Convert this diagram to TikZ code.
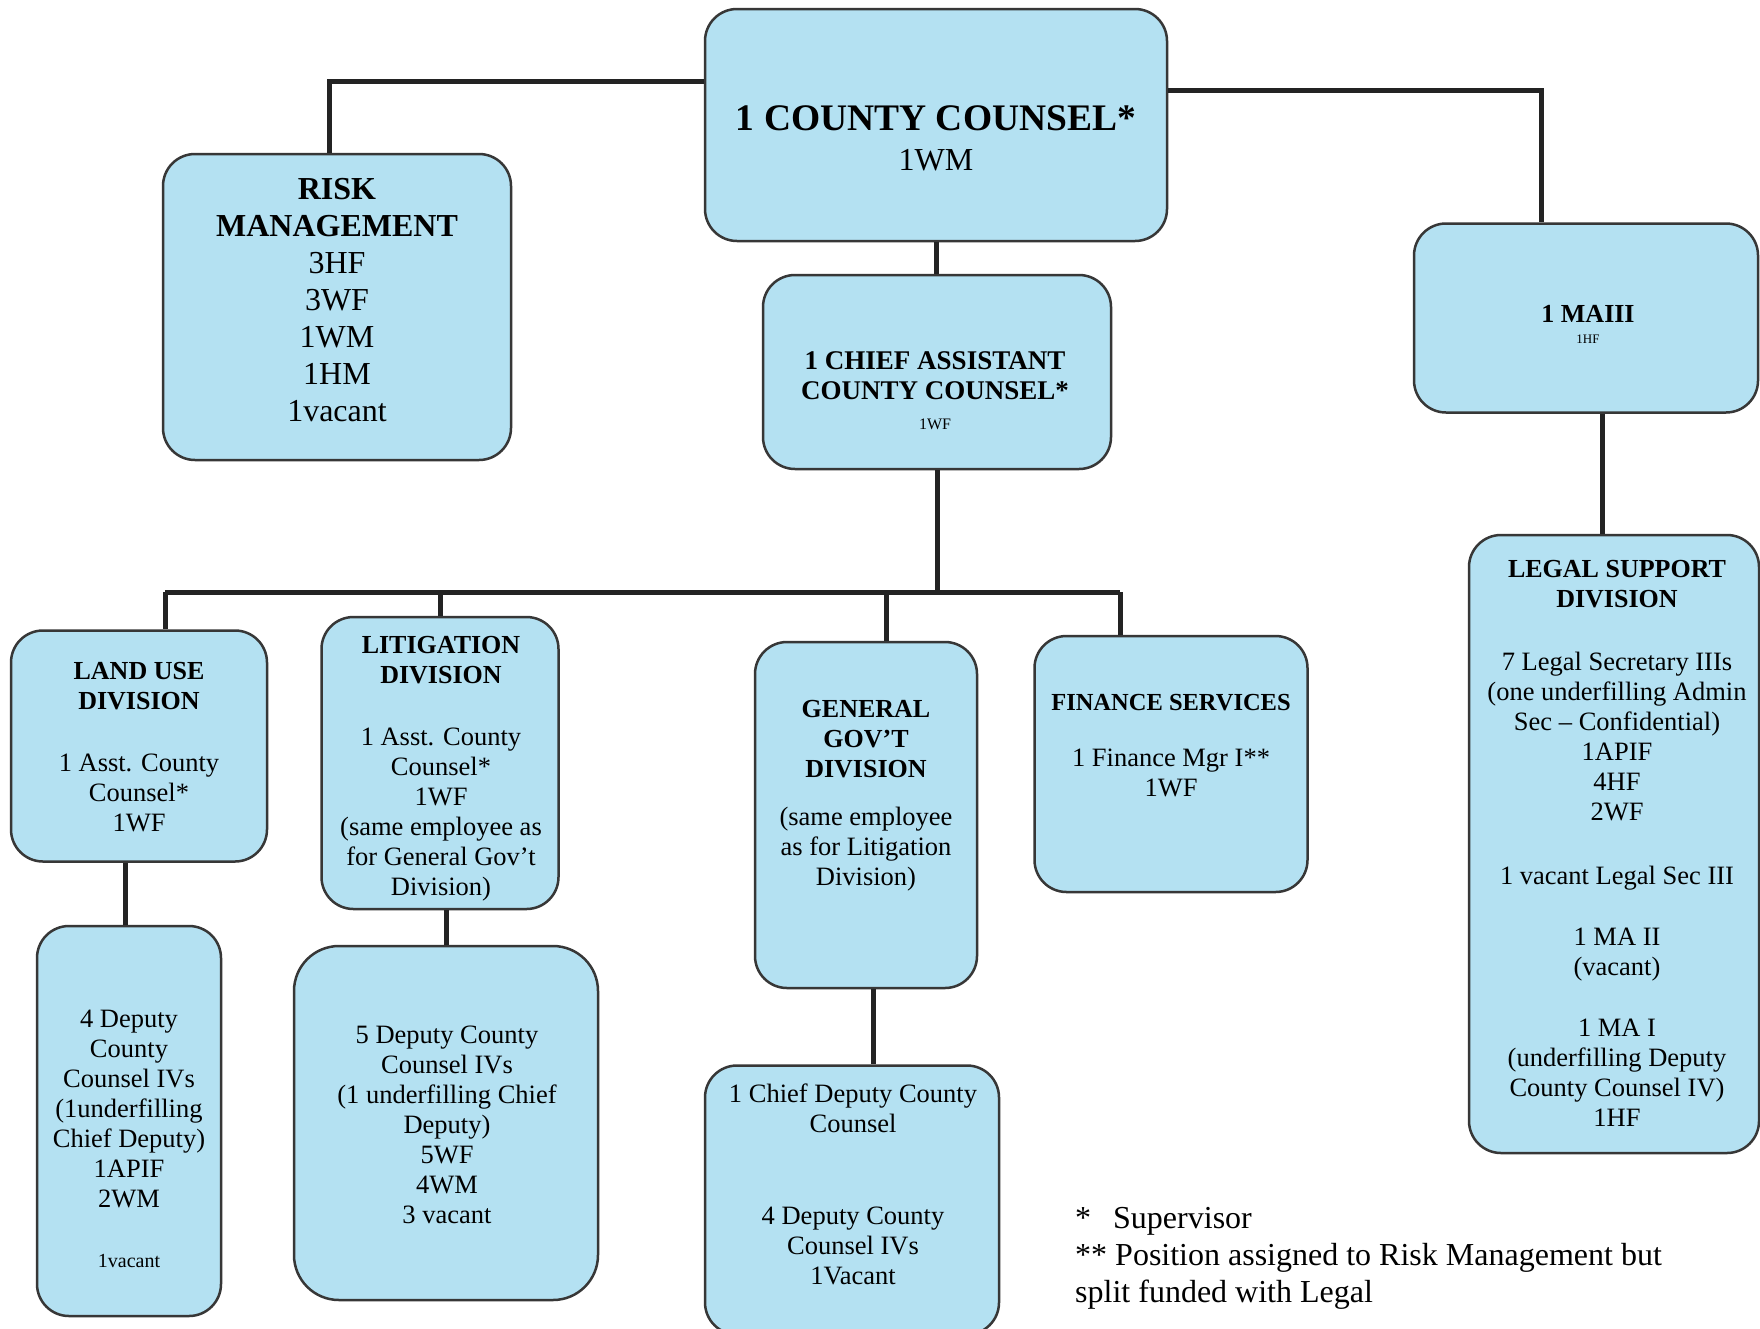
\documentclass[tikz,border=0pt]{standalone}
\usepackage{fontspec}
\setmainfont{Liberation Serif}
\definecolor{boxblue}{RGB}{180,225,242}
\definecolor{edgegray}{RGB}{55,55,55}
\definecolor{linegray}{RGB}{35,35,35}
\tikzset{
  box/.style={draw=edgegray, line width=2.5pt, fill=boxblue, rounded corners=32pt, inner sep=0pt},
  txt/.style={align=center, inner sep=0pt, font=\fontsize{26.5}{30}\selectfont},
  ttl/.style={font=\bfseries\fontsize{26}{30}\selectfont},
  conn/.style={draw=linegray, line width=5pt}
}
\newcommand{\ttlf}{\bfseries\fontsize{26}{30}\selectfont}
\begin{document}
\begin{tikzpicture}[x=1pt,y=-1pt]
\clip (0,0) rectangle (1760,1328);
\fill[white] (0,0) rectangle (1760,1328);
% boxes
\node[box, minimum width=462pt, minimum height=232pt] (cc) at (936,125) {};
\node[box, minimum width=348pt, minimum height=306pt] (risk) at (337,307) {};
\node[box, minimum width=348pt, minimum height=194pt] (chief) at (937,372) {};
\node[box, minimum width=344pt, minimum height=189pt] (maiii) at (1586,318) {};
\node[box, minimum width=290pt, minimum height=618pt] (legal) at (1614,844) {};
\node[box, minimum width=256pt, minimum height=231pt] (landuse) at (139,746) {};
\node[box, minimum width=184pt, minimum height=390pt] (landdep) at (129,1121) {};
\node[box, minimum width=237pt, minimum height=292pt] (lit) at (440,763) {};
\node[box, minimum width=304pt, minimum height=354pt, rounded corners=45pt] (litdep) at (446,1123) {};
\node[box, minimum width=222pt, minimum height=346pt] (gen) at (866,815) {};
\node[box, minimum width=294pt, minimum height=269pt] (chiefdep) at (852,1200) {};
\node[box, minimum width=273pt, minimum height=256pt] (fin) at (1171,764) {};
% connectors
\coordinate (bus) at (935,592);
\draw[conn] ([yshift=44pt]cc.west) -| ([xshift=-8pt]risk.north);
\draw[conn] ([yshift=35pt]cc.east) -| ([xshift=-45pt]maiii.north);
\draw[conn] (cc.south) -- (cc.south |- chief.north);
\draw[conn] (chief.south) -- (chief.south |- bus);
\draw[conn] ([xshift=26pt]landuse.north |- bus) -- ([xshift=-51pt]fin.north |- bus);
\draw[conn] ([xshift=26pt]landuse.north |- bus) -- ([xshift=26pt]landuse.north);
\draw[conn] (lit.north |- bus) -- (lit.north);
\draw[conn] ([xshift=20pt]gen.north |- bus) -- ([xshift=20pt]gen.north);
\draw[conn] ([xshift=-51pt]fin.north |- bus) -- ([xshift=-51pt]fin.north);
\draw[conn] ([xshift=-14pt]landuse.south) -- ([xshift=-14pt]landuse.south |- landdep.north);
\draw[conn] ([xshift=6pt]lit.south) -- ([xshift=6pt]lit.south |- litdep.north);
\draw[conn] ([xshift=7pt]gen.south) -- ([xshift=7pt]gen.south |- chiefdep.north);
\draw[conn] ([xshift=16pt]maiii.south) -- ([xshift=16pt]maiii.south |- legal.north);
% texts
\node[txt, font=\fontsize{32}{40}\selectfont] (cct) at (936,138) {{\bfseries\fontsize{37.5}{40}\selectfont 1 COUNTY COUNSEL*}\\1WM};
\node[txt, font=\fontsize{32}{37}\selectfont] (riskt) at (337,300) {\textbf{RISK}\\\textbf{MANAGEMENT}\\3HF\\3WF\\1WM\\1HM\\1vacant};
\node[txt, font=\fontsize{27}{30}\selectfont] (chieft) at (935,391) {\textbf{1 CHIEF ASSISTANT}\\\textbf{COUNTY COUNSEL*}\\{\fontsize{16}{20}\selectfont 1WF}};
\node[txt, font=\fontsize{26}{21}\selectfont] (maiiit) at (1588,324) {\textbf{1 MAIII}\\{\fontsize{13}{15}\selectfont 1HF}};
\node[txt] (legalt) at (1617,843) {{\ttlf LEGAL SUPPORT}\\{\ttlf DIVISION}\\[33pt]7 Legal Secretary IIIs\\(one underfilling Admin\\Sec – Confidential)\\1APIF\\4HF\\2WF\\[34pt]1 vacant Legal Sec III\\[31pt]1 MA II\\(vacant)\\[31pt]1 MA I\\(underfilling Deputy\\County Counsel IV)\\1HF};
\node[txt] (landuset) at (139,747) {{\ttlf LAND USE}\\{\ttlf DIVISION}\\[32pt]1 Asst. County\\Counsel*\\1WF};
\node[txt] (litt) at (441,769) {{\ttlf LITIGATION}\\{\ttlf DIVISION}\\[32pt]1 Asst. County\\Counsel*\\1WF\\(same employee as\\for General Gov’t\\Division)};
\node[txt] (gent) at (866,796) {{\ttlf GENERAL}\\{\ttlf GOV’T}\\{\ttlf DIVISION}\\[18pt](same employee\\as for Litigation\\Division)};
\node[txt] (fint) at (1171,746) {{\bfseries\fontsize{24.5}{30}\selectfont FINANCE SERVICES}\\[26pt]1 Finance Mgr I**\\1WF};
\node[txt] (landdept) at (129,1139) {4 Deputy\\County\\Counsel IVs\\(1underfilling\\Chief Deputy)\\1APIF\\2WM\\[30pt]{\fontsize{20}{24}\selectfont 1vacant}};
\node[txt] (litdept) at (447,1125) {5 Deputy County\\Counsel IVs\\(1 underfilling Chief\\Deputy)\\5WF\\4WM\\3 vacant};
\node[txt] (chiefdept) at (853,1184) {1 Chief Deputy County\\Counsel\\[62pt]4 Deputy County\\Counsel IVs\\1Vacant};
\node[txt, align=left, anchor=west, font=\fontsize{32}{37}\selectfont] (note) at (1075,1258) {*\hspace{22pt}Supervisor\\** Position assigned to Risk Management but\\split funded with Legal};
\end{tikzpicture}
\end{document}
